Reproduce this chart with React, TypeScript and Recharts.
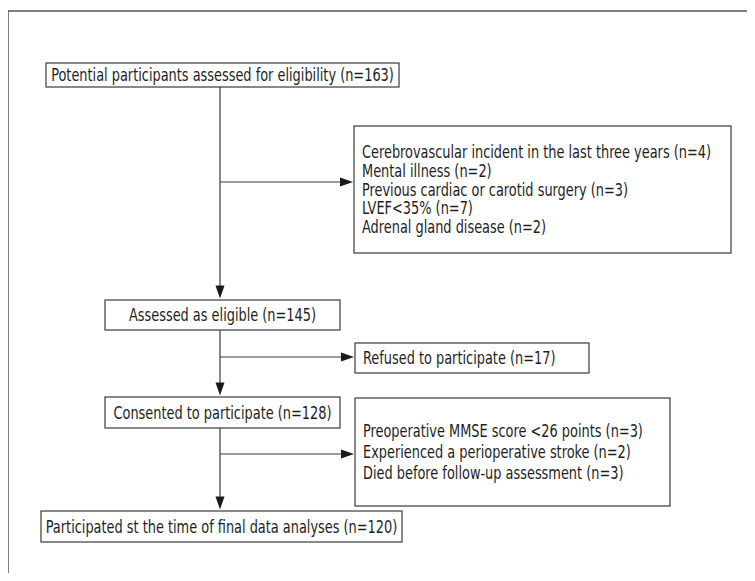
import React from 'react';
import { ComposedChart, XAxis, YAxis, ReferenceArea, ReferenceLine } from 'recharts';

// ---- data ----
const stageLabels = [
  'Potential participants assessed for eligibility',
  'Assessed as eligible',
  'Consented to participate',
  'Participated st the time of final data analyses',
];
const stageCounts = [163, 145, 128, 120];

const exclusionReasonsA = [
  'Cerebrovascular incident in the last three years',
  'Mental illness',
  'Previous cardiac or carotid surgery',
  'LVEF<35%',
  'Adrenal gland disease',
];
const exclusionCountsA = [4, 2, 3, 7, 2];
const exclusionReasonsB = ['Refused to participate'];
const exclusionCountsB = [17];
const exclusionReasonsC = [
  'Preoperative MMSE score <26 points',
  'Experienced a perioperative stroke',
  'Died before follow-up assessment',
];
const exclusionCountsC = [3, 2, 3];

// ---- layout (flow coordinates) ----
const stageBoxes = [
  { x1: 46, x2: 399, y1: 63, y2: 87 },
  { x1: 105, x2: 340, y1: 300, y2: 330 },
  { x1: 105, x2: 340, y1: 397, y2: 428 },
  { x1: 41, x2: 402, y1: 511, y2: 542 },
];
const exclusionBoxes = [
  { x1: 354, x2: 731, y1: 126, y2: 253, gap: 18.7 },
  { x1: 355, x2: 589, y1: 343, y2: 373, gap: 18 },
  { x1: 355, x2: 670, y1: 398, y2: 506, gap: 21 },
];
const stemX = 220;
const branchY = [182, 357, 454];

const FONT = "'DejaVu Sans Condensed', 'DejaVu Sans', sans-serif";
const FS = 17;
const SX = 0.845;
const STROKE = '#3a3a3a';
const TEXT = '#1e1e1e';

const fmt = (label: string, n: number) => `${label} (n=${n})`;

const stageTexts = stageLabels.map((l, i) => fmt(l, stageCounts[i]));
const exclusionTexts = [
  exclusionReasonsA.map((l, i) => fmt(l, exclusionCountsA[i])),
  exclusionReasonsB.map((l, i) => fmt(l, exclusionCountsB[i])),
  exclusionReasonsC.map((l, i) => fmt(l, exclusionCountsC[i])),
];

const boxShape = (lines: string[], align: 'middle' | 'start', gap: number) => (props: any) => {
  const { x, y, width, height } = props;
  const cy = y + height / 2;
  const n = lines.length;
  return (
    <g>
      <rect x={x} y={y} width={width} height={height} fill="#fff" stroke={STROKE} strokeWidth={1.2} />
      {lines.map((t, i) => {
        const tx = align === 'middle' ? x + width / 2 : x + 8;
        const ty = cy + (i - (n - 1) / 2) * gap;
        return (
          <g key={i} transform={`translate(${tx},${ty}) scale(${SX},1)`}>
            <text x={0} y={0} dy="0.36em" textAnchor={align} fontFamily={FONT} fontSize={FS} fill={TEXT}>
              {t}
            </text>
          </g>
        );
      })}
    </g>
  );
};

const arrowShape = (props: any) => {
  const { x1, y1, x2, y2 } = props;
  const dx = x2 - x1;
  const dy = y2 - y1;
  const len = Math.sqrt(dx * dx + dy * dy) || 1;
  const ux = dx / len;
  const uy = dy / len;
  const L = 13;
  const W = 4.5;
  const bx = x2 - ux * L;
  const by = y2 - uy * L;
  const pts = `${x2},${y2} ${bx - uy * W},${by + ux * W} ${bx + uy * W},${by - ux * W}`;
  return (
    <g>
      <line x1={x1} y1={y1} x2={bx + ux * 2} y2={by + uy * 2} stroke={STROKE} strokeWidth={1.2} />
      <polygon points={pts} fill="#1a1a1a" />
    </g>
  );
};

const plainLine = (props: any) => {
  const { x1, y1, x2, y2 } = props;
  return <line x1={x1} y1={y1} x2={x2} y2={y2} stroke="#555" strokeWidth={1.5} />;
};

export default function App() {
  const downArrows = stageBoxes.slice(0, -1).map((b, i) => ({
    from: { x: stemX, y: b.y2 },
    to: { x: stemX, y: stageBoxes[i + 1].y1 - 1.5 },
  }));
  const sideArrows = branchY.map((y, i) => ({
    from: { x: stemX, y },
    to: { x: exclusionBoxes[i].x1 - 1, y },
  }));
  return (
    <div style={{ width: 739, height: 565, overflow: 'hidden' }}>
      <ComposedChart width={755} height={581} margin={{ top: 0, right: 0, bottom: 0, left: 0 }} data={[]}>
        <XAxis type="number" dataKey="x" domain={[8, 763]} hide allowDataOverflow />
        <YAxis type="number" dataKey="y" domain={[8, 589]} reversed hide allowDataOverflow />
        <ReferenceLine segment={[{ x: 8, y: 11 }, { x: 763, y: 11 }]} shape={plainLine} ifOverflow="visible" />
        <ReferenceLine segment={[{ x: 8, y: 11 }, { x: 8, y: 589 }]} shape={plainLine} ifOverflow="visible" />
        {downArrows.map((a, i) => (
          <ReferenceLine key={`d${i}`} segment={[a.from, a.to]} shape={arrowShape} ifOverflow="visible" />
        ))}
        {sideArrows.map((a, i) => (
          <ReferenceLine key={`s${i}`} segment={[a.from, a.to]} shape={arrowShape} ifOverflow="visible" />
        ))}
        {stageBoxes.map((b, i) => (
          <ReferenceArea
            key={`b${i}`}
            x1={b.x1}
            x2={b.x2}
            y1={b.y1}
            y2={b.y2}
            ifOverflow="visible"
            shape={boxShape([stageTexts[i]], 'middle', 18)}
          />
        ))}
        {exclusionBoxes.map((b, i) => (
          <ReferenceArea
            key={`e${i}`}
            x1={b.x1}
            x2={b.x2}
            y1={b.y1}
            y2={b.y2}
            ifOverflow="visible"
            shape={boxShape(exclusionTexts[i], 'start', b.gap)}
          />
        ))}
      </ComposedChart>
    </div>
  );
}
